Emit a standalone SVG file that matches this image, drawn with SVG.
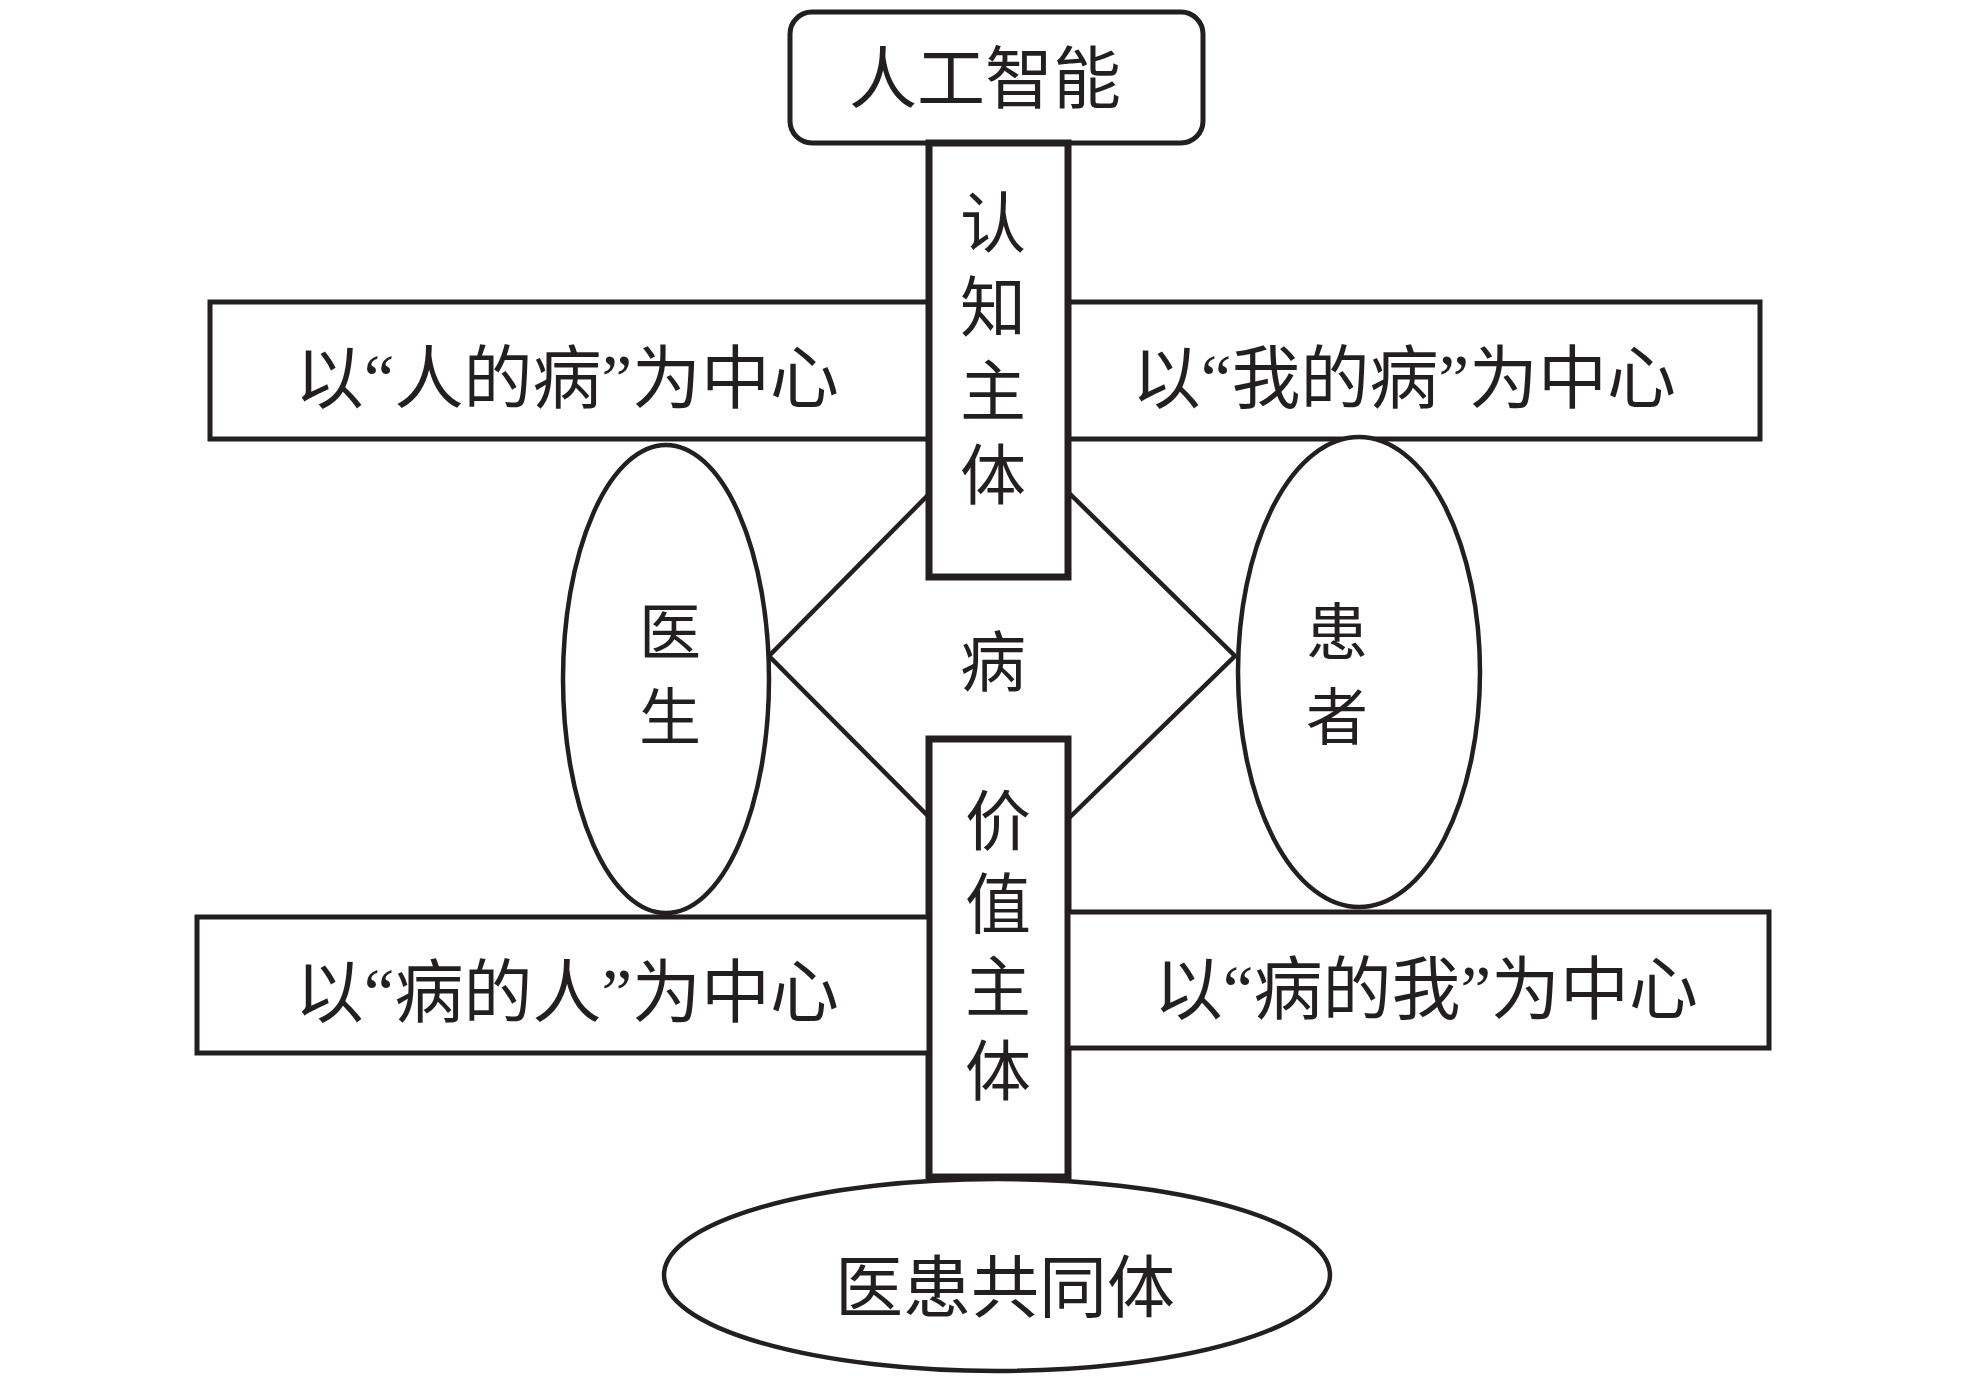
<svg xmlns="http://www.w3.org/2000/svg" width="1968" height="1376" viewBox="0 0 1968 1376">
<style>
.box{fill:#fff;stroke:#231f20;stroke-width:5}
.col{fill:#fff;stroke:#231f20;stroke-width:7}
.ell{fill:#fff;stroke:#231f20;stroke-width:4.5}
.conn{fill:none;stroke:#231f20;stroke-width:4.5;stroke-linejoin:miter}
text{font-family:"Liberation Serif","Noto Sans CJK SC",serif;fill:#231f20;text-anchor:middle}
.lbl{font-size:66px}
.hl{font-size:69px}
.big{font-size:68px}
.sm{font-size:62px}
</style>
<rect width="1968" height="1376" fill="#fff"/>
<g id="connectors">
<polyline class="conn" points="929,494 769,656 929,817"/>
<polyline class="conn" points="1068,492 1235,656 1068,819"/>
</g>
<g id="node-ai">
<rect class="box" x="790" y="12" width="413" height="131" rx="22"/>
<text class="big" x="985" y="103">人工智能</text>
</g>
<g id="node-ren-de-bing">
<rect class="box" x="210" y="302" width="719" height="137"/>
<text class="hl" x="567" y="403">以“人的病”为中心</text>
</g>
<g id="node-wo-de-bing">
<rect class="box" x="1068" y="302" width="692" height="137"/>
<text class="hl" x="1404" y="403">以“我的病”为中心</text>
</g>
<g id="node-renzhi">
<rect class="col" x="929" y="143" width="139" height="434"/>
<text class="lbl" x="993" y="247">认</text>
<text class="lbl" x="993" y="331">知</text>
<text class="lbl" x="993" y="415">主</text>
<text class="lbl" x="993" y="499">体</text>
</g>
<g id="node-doctor">
<ellipse class="ell" cx="666" cy="679" rx="103" ry="234"/>
<text class="sm" x="670" y="655">医</text>
<text class="sm" x="670" y="740">生</text>
</g>
<g id="node-patient">
<ellipse class="ell" cx="1359" cy="672" rx="121" ry="235"/>
<text class="sm" x="1337" y="655">患</text>
<text class="sm" x="1337" y="740">者</text>
</g>
<g id="node-bing">
<text class="lbl" x="993" y="686">病</text>
</g>
<g id="node-jiazhi">
<rect class="col" x="929" y="739" width="139" height="438"/>
<text class="lbl" x="998" y="845">价</text>
<text class="lbl" x="998" y="928">值</text>
<text class="lbl" x="998" y="1011">主</text>
<text class="lbl" x="998" y="1095">体</text>
</g>
<g id="node-bing-de-ren">
<rect class="box" x="197" y="917" width="732" height="136"/>
<text class="hl" x="567" y="1017">以“病的人”为中心</text>
</g>
<g id="node-bing-de-wo">
<rect class="box" x="1068" y="912" width="701" height="136"/>
<text class="hl" x="1426" y="1014">以“病的我”为中心</text>
</g>
<g id="node-community">
<ellipse class="ell" cx="997" cy="1275" rx="333" ry="96"/>
<text class="big" x="1005" y="1312">医患共同体</text>
</g>
</svg>
